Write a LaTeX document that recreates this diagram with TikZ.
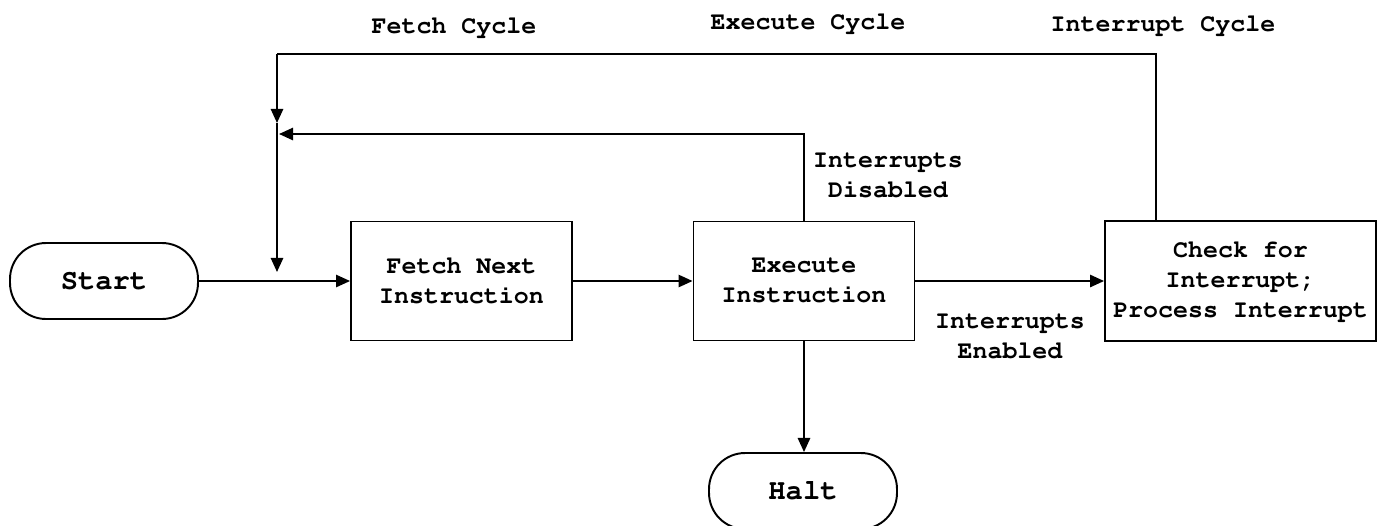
\documentclass[tikz,border=0pt]{standalone}
\usepackage[T1]{fontenc}
\usepackage{courier}
\usetikzlibrary{arrows.meta}
\begin{document}
\begin{tikzpicture}
[x=0.02cm,y=-0.02cm,
  boxdecorate/.style={shape=rectangle,draw,line width=1.1pt,align=center,
    minimum width=4.42cm,minimum height=2.38cm,
    font=\ttfamily\bfseries\fontsize{14.2}{17}\selectfont},%
  termdecorate/.style={shape=rectangle,rounded corners=0.72cm,draw,line width=1.1pt,
    minimum width=3.76cm,minimum height=1.52cm,
    font=\ttfamily\bfseries\fontsize{16.4}{19.7}\selectfont},%
  textdecorate/.style={align=center,font=\ttfamily\bfseries\fontsize{14.2}{17}\selectfont},%
  linedecorate/.style={line width=1.1pt},%
  arrowdecorate/.style={-{Triangle[length=8pt,width=7pt]},line width=1.1pt}]
\useasboundingbox (0,0) rectangle (1385,525);
% nodes or vertices
\node (start) at (104,281) [termdecorate] {Start};
\node (fetch) at (461.5,281) [boxdecorate] {Fetch Next\\Instruction};
\node (exec) at (804,281) [boxdecorate] {Execute\\Instruction};
\node (check) at (1240.5,281) [boxdecorate,minimum width=5.42cm,minimum height=2.4cm] {Check for\\Interrupt;\\Process Interrupt};
\node (halt) at (803,491) [termdecorate] {Halt};
% labels
\node (fetchcycle) at (454,27) [textdecorate] {Fetch Cycle};
\node (execcycle) at (808,23) [textdecorate] {Execute Cycle};
\node (intcycle) at (1163,25) [textdecorate] {Interrupt Cycle};
\node (disabled) at (888,176) [textdecorate] {Interrupts\\Disabled};
\node (enabled) at (1010,337) [textdecorate] {Interrupts\\Enabled};
% turning points
\coordinate (corner) at (277,54);
\coordinate (merge) at (277,123);
\coordinate (entry) at (277,272);
\coordinate (back) at (279,134);
% edges or lines
\path
(start) edge[arrowdecorate] node {} (fetch)
(fetch) edge[arrowdecorate] node {} (exec)
(exec) edge[arrowdecorate] node {} (check);
\draw[arrowdecorate] (exec.south) -- (exec.south |- halt.north);
\draw[linedecorate] ([xshift=1.04cm]check.north west) |- (corner);
\draw[arrowdecorate] (corner) -- (merge);
\draw[arrowdecorate] (merge) -- (entry);
\draw[arrowdecorate] (exec.north) |- (back);
\end{tikzpicture}
\end{document}
